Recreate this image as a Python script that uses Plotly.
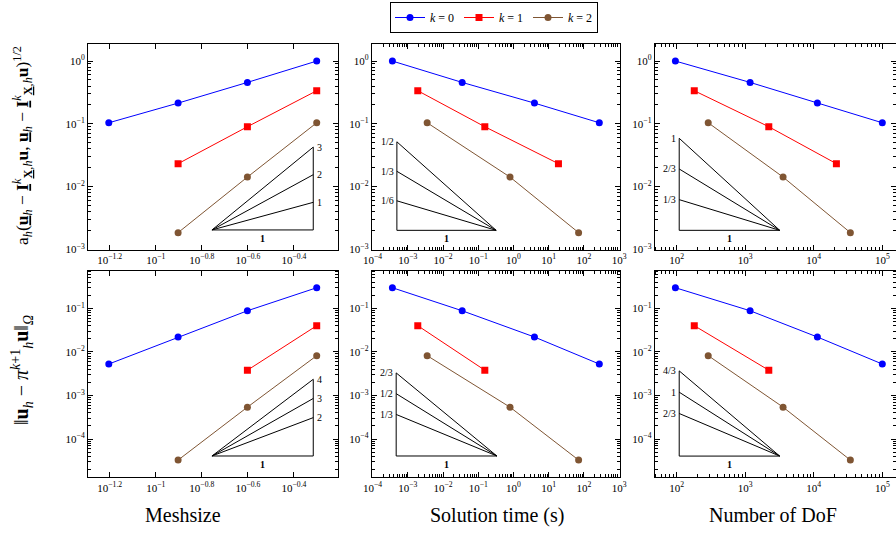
import numpy as np
import plotly.graph_objects as go

# ---------------- data ----------------
h_k0 = [0.0625, 0.125, 0.25, 0.5]
time_k0 = [275, 3.95, 0.035, 3.65e-4]
dof_k0 = [1.0e5, 1.13e4, 1.18e3, 96]
energy_k0 = [0.104, 0.214, 0.457, 1.0]
l2_k0 = [0.00527, 0.022, 0.088, 0.297]

h_k1 = [0.125, 0.25, 0.5]
time_k1 = [19, 0.154, 1.92e-3]
dof_k1 = [2.14e4, 2.21e3, 181]
energy_k1 = [0.0232, 0.090, 0.337]
l2_k1 = [None, 0.0038, 0.040]

h_k2 = [0.125, 0.25, 0.5]
time_k2 = [71, 0.80, 3.55e-3]
dof_k2 = [3.42e4, 3.57e3, 289]
energy_k2 = [0.00185, 0.0142, 0.104]
l2_k2 = [3.3e-5, 5.4e-4, 0.0082]

series_names = ["<i>k</i> = 0", "<i>k</i> = 1", "<i>k</i> = 2"]
col_titles = ["Meshsize", "Solution time (s)", "Number of DoF"]

# x tick exponents
xtick_exp_h = [-1.2, -1, -0.8, -0.6, -0.4]
xtick_exp_time = [-4, -3, -2, -1, 0, 1, 2, 3]
xtick_exp_dof = [2, 3, 4, 5]
ytick_exp_energy = [0, -1, -2, -3]
ytick_exp_l2 = [-1, -2, -3, -4]

# slope triangles: slopes per panel (row, col)
slopes = {
    (0, 0): [1, 2, 3], (0, 1): [1 / 6, 1 / 3, 1 / 2], (0, 2): [1 / 3, 2 / 3, 1],
    (1, 0): [2, 3, 4], (1, 1): [1 / 3, 1 / 2, 2 / 3], (1, 2): [2 / 3, 1, 4 / 3],
}
slope_labels = {
    (0, 0): ["1", "2", "3"], (0, 1): ["1/6", "1/3", "1/2"], (0, 2): ["1/3", "2/3", "1"],
    (1, 0): ["2", "3", "4"], (1, 1): ["1/3", "1/2", "2/3"], (1, 2): ["2/3", "1", "4/3"],
}

# ---------------- style / layout ----------------
W, H = 896, 533
FONT = "Liberation Serif"
colors = ["#0000FF", "#FF0000", "#7F5533"]
symbols = ["circle", "square", "circle"]
COL_PX = [(88, 337.5), (371.7, 620), (654.7, 903)]
ROW_PX = [(43.9, 249.8), (270.5, 477.3)]
# triangle anchors in log10 axis units (vertex x, base y, width in decades)
tri_anchor = {
    (0, 0): (-0.756, -2.69, 0.44), (0, 1): (-3.31, -2.696, 2.82), (0, 2): (2.038, -2.696, 1.466),
    (1, 0): (-0.756, -4.388, 0.44), (1, 1): (-3.33, -4.388, 2.86), (1, 2): (2.038, -4.39, 1.466),
}

xs_by_col = [[h_k0, h_k1, h_k2], [time_k0, time_k1, time_k2], [dof_k0, dof_k1, dof_k2]]
ys_by_row = [[energy_k0, energy_k1, energy_k2], [l2_k0, l2_k1, l2_k2]]
xt_by_col = [xtick_exp_h, xtick_exp_time, xtick_exp_dof]
yt_by_row = [ytick_exp_energy, ytick_exp_l2]


def logrange(arrs):
    v = np.log10([a for arr in arrs for a in arr if a is not None])
    lo, hi = v.min(), v.max()
    d = 0.1 * (hi - lo)
    return lo - d, hi + d


def fmt_exp(e):
    s = ("%g" % e).replace("-", "−")
    return "10<sup>%s</sup>" % s


def minor_vals(lo, hi):
    out = []
    for e in range(int(np.floor(lo)) - 1, int(np.ceil(hi)) + 1):
        for m in range(2, 10):
            v = m * 10.0 ** e
            if lo <= np.log10(v) <= hi:
                out.append(v)
    return out


fig = go.Figure()
layout = {}
annotations = []

for r in range(2):
    ylo, yhi = logrange(ys_by_row[r])
    for c in range(3):
        p = r * 3 + c
        sfx = "" if p == 0 else str(p + 1)
        xlo, xhi = logrange(xs_by_col[c])
        x0p, x1p = COL_PX[c]
        if x1p > W:
            xhi = xlo + (xhi - xlo) * (W - x0p) / (x1p - x0p)
            x1p = W
        y0p, y1p = ROW_PX[r]
        for k in range(3):
            fig.add_trace(go.Scatter(
                x=xs_by_col[c][k], y=ys_by_row[r][k], mode="lines+markers",
                name=series_names[k], legendgroup=str(k), showlegend=(p == 0),
                line=dict(color=colors[k], width=1),
                marker=dict(symbol=symbols[k], size=7, color=colors[k]),
                xaxis="x" + sfx, yaxis="y" + sfx))
        common = dict(type="log", showline=True, mirror="allticks", linecolor="black",
                      linewidth=1, ticks="inside", ticklen=5, tickwidth=1, tickcolor="black",
                      showgrid=False, zeroline=False, automargin=False,
                      tickfont=dict(family=FONT, size=11, color="black"))
        xt = xt_by_col[c]
        xaxis = dict(common, domain=[x0p / W, x1p / W], range=[xlo, xhi],
                     anchor="y" + sfx, tickmode="array",
                     tickvals=[10.0 ** e for e in xt], ticktext=[fmt_exp(e) for e in xt])
        if c > 0:
            xaxis["minor"] = dict(tickmode="array", tickvals=minor_vals(xlo, xhi),
                                  ticks="inside", ticklen=3, tickcolor="black", tickwidth=1)
        yt = yt_by_row[r]
        yaxis = dict(common, domain=[1 - y1p / H, 1 - y0p / H], range=[ylo, yhi],
                     anchor="x" + sfx, tickmode="array",
                     tickvals=[10.0 ** e for e in yt], ticktext=[fmt_exp(e) for e in yt],
                     minor=dict(tickmode="array", tickvals=minor_vals(ylo, yhi),
                                ticks="inside", ticklen=3, tickcolor="black", tickwidth=1))
        layout["xaxis" + sfx] = xaxis
        layout["yaxis" + sfx] = yaxis

        # slope triangle
        tx, ty, tw = tri_anchor[(r, c)]
        sl = slopes[(r, c)]
        labs = slope_labels[(r, c)]
        smax = max(sl)
        if c == 0:
            px = [tx, tx + tw, tx + tw, tx]
            py = [ty, ty, ty + smax * tw, ty]
        else:
            px = [tx + tw, tx, tx, tx + tw]
            py = [ty, ty, ty + smax * tw, ty]
        fig.add_trace(go.Scatter(x=10 ** np.array(px), y=10 ** np.array(py), mode="lines",
                                 line=dict(color="black", width=1), showlegend=False,
                                 hoverinfo="skip", xaxis="x" + sfx, yaxis="y" + sfx))
        for s, lab in zip(sl, labs):
            if s != smax:
                if c == 0:
                    lx, ly = [tx, tx + tw], [ty, ty + s * tw]
                else:
                    lx, ly = [tx, tx + tw], [ty + s * tw, ty]
                fig.add_trace(go.Scatter(x=10 ** np.array(lx), y=10 ** np.array(ly), mode="lines",
                                         line=dict(color="black", width=1), showlegend=False,
                                         hoverinfo="skip", xaxis="x" + sfx, yaxis="y" + sfx))
            if c == 0:
                annotations.append(dict(x=tx + tw, y=ty + s * tw, xref="x" + sfx, yref="y" + sfx,
                                        text=lab, showarrow=False, xanchor="left", yanchor="middle",
                                        xshift=2, font=dict(family=FONT, size=10, color="black")))
            else:
                annotations.append(dict(x=tx, y=ty + s * tw, xref="x" + sfx, yref="y" + sfx,
                                        text=lab, showarrow=False, xanchor="right", yanchor="middle",
                                        xshift=-1, font=dict(family=FONT, size=10, color="black")))
        annotations.append(dict(x=tx + tw / 2, y=ty, xref="x" + sfx, yref="y" + sfx,
                                text="<b>1</b>", showarrow=False, xanchor="center", yanchor="top",
                                yshift=-1, font=dict(family=FONT, size=10, color="black")))

# column titles
for c in range(3):
    annotations.append(dict(x=[183, 497, 773][c] / W, y=1 - 515 / H, xref="paper", yref="paper",
                            text=col_titles[c], showarrow=False, xanchor="center", yanchor="middle",
                            font=dict(family=FONT, size=20, color="black")))

# y titles
UL = '<span style="text-decoration:underline">%s</span>'
ytitle_top = ("a<sub><i>h</i></sub>(" + UL % "<b>u</b>" + "<sub><i>h</i></sub> − "
              + UL % "<b>I</b>" + "<sup><i>k</i></sup><sub>" + UL % "<b>X</b>" + ",<i>h</i></sub><b>u</b>, "
              + UL % "<b>u</b>" + "<sub><i>h</i></sub> − "
              + UL % "<b>I</b>" + "<sup><i>k</i></sup><sub>" + UL % "<b>X</b>" + ",<i>h</i></sub><b>u</b>)<sup>1/2</sup>")
ytitle_bot = ("‖<b>u</b><sub><i>h</i></sub> − <i>π</i><sup><i>k</i>+1</sup><sub><i>h</i></sub>"
              "<b>u</b>‖<sub><i>Ω</i></sub>")
annotations.append(dict(x=23 / W, y=1 - 146 / H, xref="paper", yref="paper", text=ytitle_top,
                        textangle=-90, showarrow=False, xanchor="center", yanchor="middle",
                        font=dict(family=FONT, size=17.5, color="black")))
annotations.append(dict(x=22 / W, y=1 - 370 / H, xref="paper", yref="paper", text=ytitle_bot,
                        textangle=-90, showarrow=False, xanchor="center", yanchor="middle",
                        font=dict(family=FONT, size=20, color="black")))

fig.update_layout(
    width=W, height=H, margin=dict(l=0, r=0, t=0, b=0, autoexpand=False),
    template="none",
    paper_bgcolor="white", plot_bgcolor="white",
    font=dict(family=FONT, color="black"),
    annotations=annotations,
    legend=dict(orientation="h", x=494 / W, xanchor="center", y=1 - 2 / H, yanchor="top",
                bordercolor="black", borderwidth=1, bgcolor="white",
                font=dict(family=FONT, size=12, color="black"),
                itemwidth=30, entrywidth=24, tracegroupgap=0),
    showlegend=True,
    **layout,
)

fig.write_html("out.html", config={"displayModeBar": False},
               post_script="document.body.style.margin='0';document.body.style.overflow='hidden';")
